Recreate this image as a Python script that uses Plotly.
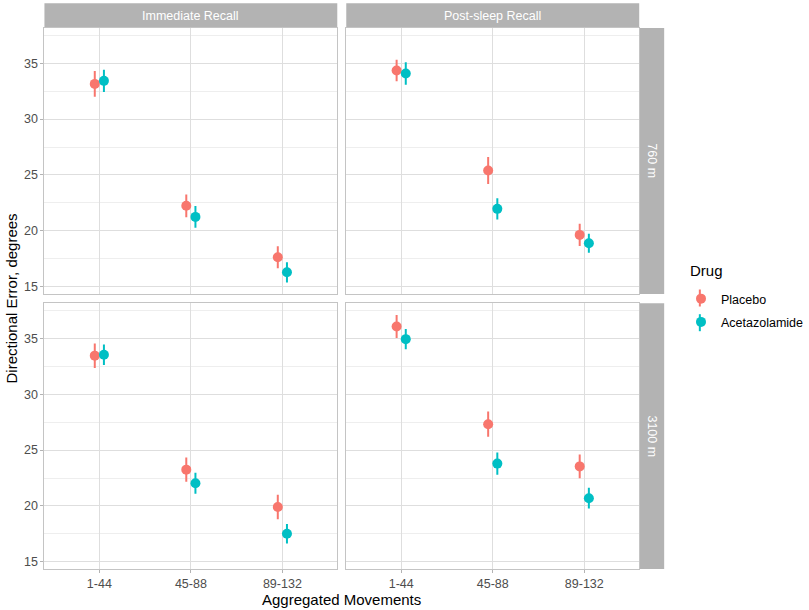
import plotly.graph_objects as go

# ---------------- data ----------------
categories = ["1-44", "45-88", "89-132"]
recalls = ["Immediate Recall", "Post-sleep Recall"]
altitudes = ["760 m", "3100 m"]
drugs = ["Placebo", "Acetazolamide"]

# 760 m, Immediate Recall
pl_760_imm = [33.15, 22.24, 17.64]
pl_760_imm_err = [1.15, 1.02, 0.99]
ac_760_imm = [33.42, 21.25, 16.29]
ac_760_imm_err = [1.00, 0.97, 0.90]
# 760 m, Post-sleep Recall
pl_760_post = [34.35, 25.40, 19.64]
pl_760_post_err = [0.97, 1.20, 1.00]
ac_760_post = [34.08, 21.97, 18.89]
ac_760_post_err = [1.00, 0.95, 0.85]
# 3100 m, Immediate Recall
pl_3100_imm = [33.46, 23.25, 19.91]
pl_3100_imm_err = [1.10, 1.08, 1.10]
ac_3100_imm = [33.54, 22.03, 17.50]
ac_3100_imm_err = [0.92, 0.94, 0.87]
# 3100 m, Post-sleep Recall
pl_3100_post = [36.07, 27.32, 23.54]
pl_3100_post_err = [1.03, 1.13, 1.07]
ac_3100_post = [34.94, 23.79, 20.69]
ac_3100_post_err = [0.90, 1.00, 0.93]

colors = {"Placebo": "#F8766D", "Acetazolamide": "#00BFC4"}
dodge = {"Placebo": -0.05, "Acetazolamide": 0.05}

panels = [
    (0, 0, {"Placebo": (pl_760_imm, pl_760_imm_err), "Acetazolamide": (ac_760_imm, ac_760_imm_err)}),
    (0, 1, {"Placebo": (pl_760_post, pl_760_post_err), "Acetazolamide": (ac_760_post, ac_760_post_err)}),
    (1, 0, {"Placebo": (pl_3100_imm, pl_3100_imm_err), "Acetazolamide": (ac_3100_imm, ac_3100_imm_err)}),
    (1, 1, {"Placebo": (pl_3100_post, pl_3100_post_err), "Acetazolamide": (ac_3100_post, ac_3100_post_err)}),
]

W, H = 809, 610
FONT = "Liberation Sans, Arial, sans-serif"

col_px = [(44.5, 337.7), (346.7, 640.0)]
row_px = [(28.0, 294.0), (303.3, 569.0)]


def px_x(v):
    return v / W


def px_y(v):
    return 1 - v / H


fig = go.Figure()
layout = dict(
    width=W, height=H,
    margin=dict(l=0, r=0, t=0, b=0),
    paper_bgcolor="white", plot_bgcolor="white",
    font=dict(family=FONT, color="#4D4D4D", size=12),
    showlegend=True,
)

for idx, (r, c, series) in enumerate(panels):
    n = idx + 1
    xname = "xaxis" if n == 1 else f"xaxis{n}"
    yname = "yaxis" if n == 1 else f"yaxis{n}"
    xref = "x" if n == 1 else f"x{n}"
    yref = "y" if n == 1 else f"y{n}"
    for drug in drugs:
        vals, errs = series[drug]
        xs = [i + 1 + dodge[drug] for i in range(len(categories))]
        fig.add_trace(go.Scatter(
            x=xs, y=vals, mode="markers",
            marker=dict(color=colors[drug], size=10, line=dict(width=0)),
            error_y=dict(type="data", array=errs, visible=True, width=0,
                         thickness=2, color=colors[drug]),
            name=drug, legendgroup=drug, showlegend=(idx == 0),
            xaxis=xref, yaxis=yref,
            hovertext=[f"{drug} {cat}" for cat in categories],
        ))
    bottom = r == 1
    left = c == 0
    layout[xname] = dict(
        domain=[px_x(col_px[c][0]), px_x(col_px[c][1])],
        anchor=yref, range=[0.4, 3.6],
        tickvals=[1, 2, 3], ticktext=categories,
        showticklabels=bottom, ticks="outside" if bottom else "",
        ticklen=3, tickcolor="#B3B3B3", tickwidth=1,
        tickfont=dict(size=12.5, color="#4D4D4D", family=FONT),
        showgrid=True, gridcolor="#DEDEDE", gridwidth=1,
        showline=True, mirror=True, linecolor="#C4C4C4", linewidth=1,
        zeroline=False, fixedrange=True,
    )
    layout[yname] = dict(
        domain=[px_y(row_px[r][1]), px_y(row_px[r][0])],
        anchor=xref, range=[14.35, 38.15],
        tickvals=[15, 20, 25, 30, 35],
        showticklabels=left, ticks="outside" if left else "",
        ticklen=3, tickcolor="#B3B3B3", tickwidth=1,
        tickfont=dict(size=12.5, color="#4D4D4D", family=FONT),
        showgrid=True, gridcolor="#DEDEDE", gridwidth=1,
        minor=dict(tickvals=[17.5, 22.5, 27.5, 32.5, 37.5], showgrid=True,
                   gridcolor="#EEEEEE", gridwidth=0.6, ticks=""),
        showline=True, mirror=True, linecolor="#C4C4C4", linewidth=1,
        zeroline=False, fixedrange=True,
    )

shapes = []
annotations = []
STRIP = "#B3B3B3"
for c, label in enumerate(recalls):
    x0, x1 = col_px[c]
    shapes.append(dict(type="rect", xref="paper", yref="paper",
                       x0=px_x(x0), x1=px_x(x1), y0=px_y(28.0), y1=px_y(3.3),
                       fillcolor=STRIP, line=dict(width=0), layer="below"))
    annotations.append(dict(text=label, xref="paper", yref="paper",
                            x=px_x((x0 + x1) / 2), y=px_y(15.6), showarrow=False,
                            xanchor="center", yanchor="middle",
                            font=dict(color="white", size=12.5, family=FONT)))
for r, label in enumerate(altitudes):
    y0, y1 = row_px[r]
    shapes.append(dict(type="rect", xref="paper", yref="paper",
                       x0=px_x(640.0), x1=px_x(665.0), y0=px_y(y1), y1=px_y(y0),
                       fillcolor=STRIP, line=dict(width=0), layer="below"))
    annotations.append(dict(text=label, xref="paper", yref="paper",
                            x=px_x(652.5), y=px_y((y0 + y1) / 2), showarrow=False,
                            textangle=90, xanchor="center", yanchor="middle",
                            font=dict(color="white", size=12.5, family=FONT)))

annotations.append(dict(text="Aggregated Movements", xref="paper", yref="paper",
                        x=px_x(342.3), y=px_y(599), showarrow=False,
                        xanchor="center", yanchor="middle",
                        font=dict(color="black", size=15, family=FONT)))
annotations.append(dict(text="Directional Error, degrees", xref="paper", yref="paper",
                        x=px_x(12), y=px_y(298.5), showarrow=False, textangle=-90,
                        xanchor="center", yanchor="middle",
                        font=dict(color="black", size=15, family=FONT)))
annotations.append(dict(text="Drug", xref="paper", yref="paper",
                        x=px_x(689), y=px_y(270.7), showarrow=False,
                        xanchor="left", yanchor="middle",
                        font=dict(color="black", size=15, family=FONT)))

# vertical pointrange strokes in the legend keys
for drug, yc in zip(drugs, [298.0, 322.7]):
    shapes.append(dict(type="line", xref="paper", yref="paper",
                       x0=px_x(700.7), x1=px_x(700.7), y0=px_y(yc + 8.5), y1=px_y(yc - 8.5),
                       line=dict(color=colors[drug], width=2), layer="above"))

layout["shapes"] = shapes
layout["annotations"] = annotations
layout["legend"] = dict(
    x=px_x(682), y=px_y(284), xanchor="left", yanchor="top",
    font=dict(size=12.5, color="black", family=FONT),
    traceorder="grouped", tracegroupgap=4,
    bgcolor="rgba(0,0,0,0)",
)

fig.update_layout(**layout)
fig.write_html("out.html", config={"displayModeBar": False},
               post_script="document.body.style.margin='0px';document.body.style.padding='0px';")
